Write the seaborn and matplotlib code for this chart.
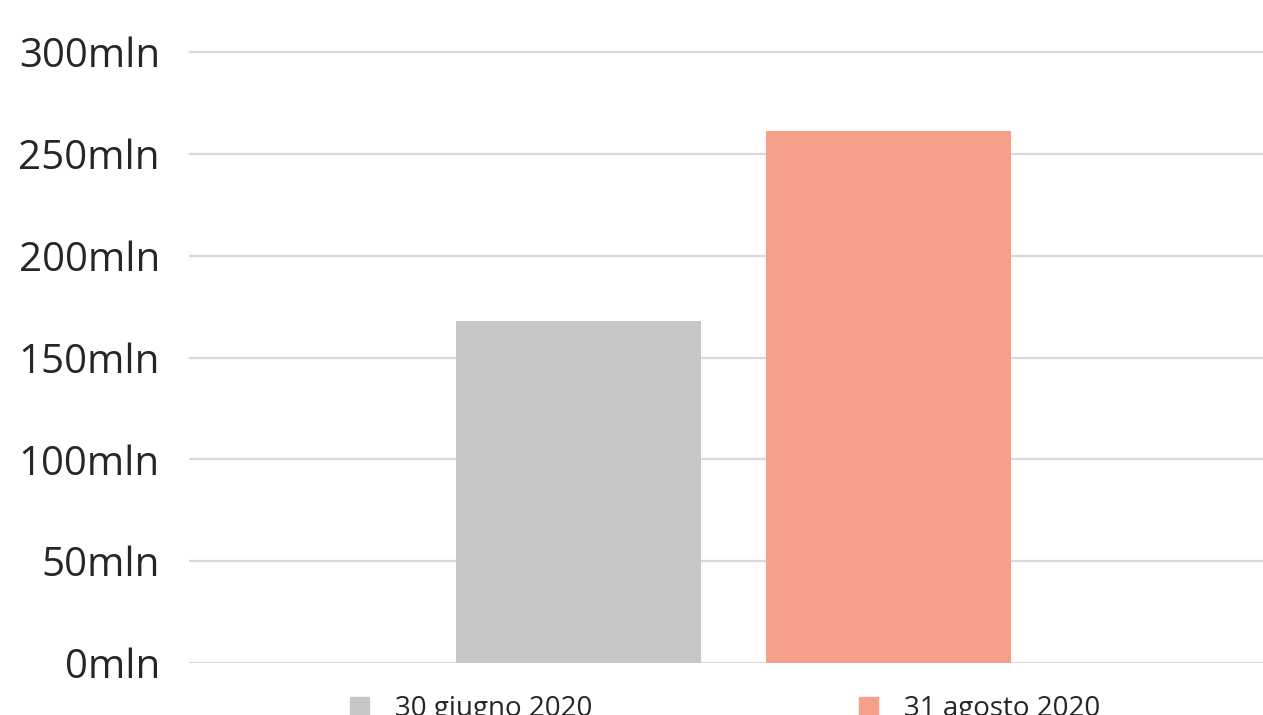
import pandas as pd
import seaborn as sns
import matplotlib.pyplot as plt
import matplotlib.ticker as tkr

# data (millions)
series = ["30 giugno 2020", "31 agosto 2020"]
values = [168, 261]
colors = ["#c6c6c6", "#f4a08b"]
y_ticks = [0, 50, 100, 150, 200, 250, 300]

df = pd.DataFrame({"grp": ["tot"] * len(series), "serie": series, "valore": values})

sns.set_theme(style="white")
plt.rcParams['font.family'] = ['Open Sans', 'DejaVu Sans']

fig = plt.figure(figsize=(12.63, 7.15), dpi=100)
# plot area: y=0 at 663px, y=300 at 52px (from top)
px = 611 / 300
bottom = (715 - 663) / 715
top_val = 305
height = (top_val * px) / 715
ax = fig.add_axes([189 / 1263, bottom, 1 - 189 / 1263, height])

sns.barplot(data=df, x="grp", y="valore", hue="serie", palette=colors,
            width=0.8, gap=0.21, ax=ax, legend=False, saturation=1, linewidth=0)

# x=0 sits at 733.5px, 775px per unit
ax.set_xlim((189 - 733.5) / 775, (1263 - 733.5) / 775)
ax.set_ylim(0, top_val)
ax.set_yticks(y_ticks)
ax.yaxis.set_major_formatter(tkr.FuncFormatter(lambda x, p: f"{int(x)}mln"))
ax.tick_params(axis='y', labelsize=29, labelcolor="#262626", length=0, pad=21)
ax.set_xticks([])
ax.set_xlabel("")
ax.set_ylabel("")
ax.grid(axis='y', color="#d9d9d9", linewidth=1.6)
ax.set_axisbelow(True)
for s in ax.spines.values():
    s.set_visible(False)

handles = [plt.Rectangle((0, 0), 1, 1, color=c) for c in colors]
fig.legend(handles, series, loc='upper left', bbox_to_anchor=(350 / 1263, (715 - 695) / 715),
           ncol=2, frameon=False, fontsize=20, borderpad=0, borderaxespad=0,
           handlelength=0.68, handleheight=0.68, handletextpad=0.94, columnspacing=9.6,
           labelcolor="#262626")

fig.savefig("out.png", dpi=100)
